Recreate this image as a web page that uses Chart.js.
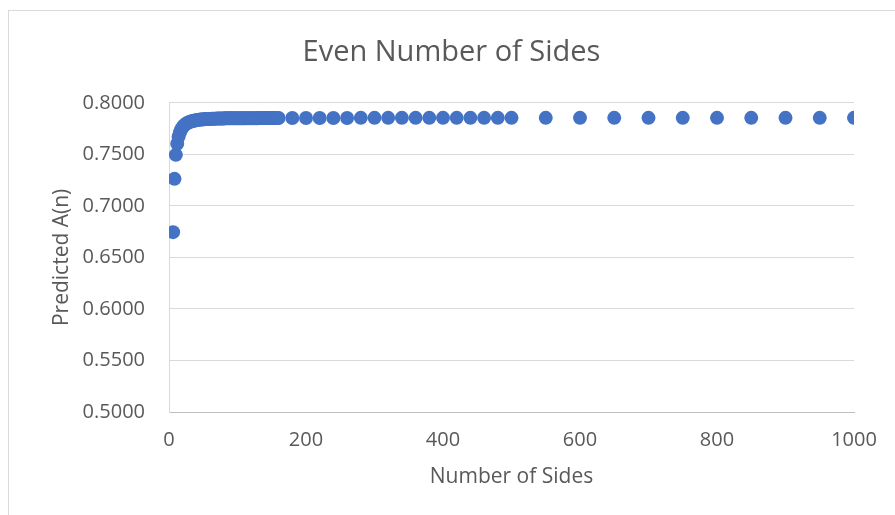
<!DOCTYPE html>
<html>
<head>
<meta charset="utf-8">
<title>Even Number of Sides</title>
<script src="https://cdn.jsdelivr.net/npm/chart.js@4.4.1/dist/chart.umd.min.js"></script>
<style>
  html, body { margin: 0; padding: 0; background: #ffffff; }
  #wrap { position: relative; width: 895px; height: 515px; overflow: hidden; }
  #frame {
    position: absolute; left: 8px; top: 10px; width: 900px; height: 520px;
    border-left: 1px solid #d9d9d9; border-top: 1px solid #d9d9d9;
    pointer-events: none;
  }
  canvas { position: absolute; left: 0; top: 0; }
</style>
</head>
<body>
<div id="wrap">
  <canvas id="chart" width="895" height="515"></canvas>
  <div id="frame"></div>
</div>
<script>
// Number of sides (even polygons only)
const sides = [
  6, 8, 10, 12, 14, 16, 18, 20, 22, 24, 26, 28, 30, 32, 34, 36, 38, 40,
  42, 44, 46, 48, 50, 52, 54, 56, 58, 60, 62, 64, 66, 68, 70, 72, 74, 76,
  78, 80, 82, 84, 86, 88, 90, 92, 94, 96, 98, 100, 102, 104, 106, 108, 110,
  112, 114, 116, 118, 120, 122, 124, 126, 128, 130, 132, 134, 136, 138, 140,
  142, 144, 146, 148, 150, 152, 154, 156, 158, 160,
  180, 200, 220, 240, 260, 280, 300, 320, 340, 360, 380, 400, 420, 440, 460, 480, 500,
  550, 600, 650, 700, 750, 800, 850, 900, 950, 1000
];

// Predicted A(n) for each polygon
const predictedArea = [
  0.6745, 0.7262, 0.7495, 0.7603, 0.7670, 0.7713, 0.7743, 0.7764, 0.7780, 0.7791,
  0.7801, 0.7808, 0.7814, 0.7819, 0.7823, 0.7826, 0.7829, 0.7831,
  0.7834, 0.7835, 0.7837, 0.7838, 0.7840, 0.7841, 0.7842, 0.7843, 0.7843, 0.7844,
  0.7845, 0.7845, 0.7846, 0.7846, 0.7847, 0.7847, 0.7847, 0.7848,
  0.7848, 0.7848, 0.7849, 0.7849, 0.7849, 0.7849, 0.7849, 0.7850, 0.7850, 0.7850,
  0.7850, 0.7850, 0.7850, 0.7850, 0.7850, 0.7850, 0.7850,
  0.7851, 0.7851, 0.7851, 0.7851, 0.7851, 0.7851, 0.7851, 0.7851, 0.7851, 0.7851,
  0.7852, 0.7852, 0.7852, 0.7852, 0.7852,
  0.7852, 0.7852, 0.7852, 0.7852, 0.7852, 0.7852, 0.7852, 0.7852, 0.7852, 0.7852,
  0.7853, 0.7853, 0.7853, 0.7853, 0.7853, 0.7854, 0.7854, 0.7854, 0.7854, 0.7854,
  0.7854, 0.7854, 0.7854, 0.7854, 0.7854, 0.7854, 0.7854,
  0.7854, 0.7854, 0.7854, 0.7854, 0.7854, 0.7854, 0.7854, 0.7854, 0.7854, 0.7854
];

// Axis ranges and tick spacing
const xTicks = { min: 0, max: 1000, step: 200 };
const yTicks = { min: 0.5, max: 0.8, step: 0.05 };

const textColor = '#595959';
const fontFamily = '"Open Sans", "Liberation Sans", sans-serif';

const points = sides.map((n, i) => ({ x: n, y: predictedArea[i] }));

new Chart(document.getElementById('chart'), {
  type: 'scatter',
  data: {
    datasets: [{
      label: 'Predicted A(n)',
      data: points,
      backgroundColor: '#4472c4',
      borderColor: '#4472c4',
      borderWidth: 0,
      pointRadius: 7,
      pointHoverRadius: 7
    }]
  },
  options: {
    responsive: false,
    animation: false,
    events: [],
    layout: { padding: { left: 49, right: 41, top: 10, bottom: 25 } },
    plugins: {
      legend: { display: false },
      tooltip: { enabled: false },
      title: {
        display: true,
        text: 'Even Number of Sides',
        color: textColor,
        font: { family: fontFamily, size: 29, weight: 'normal', lineHeight: 1.2 },
        padding: { top: 25, bottom: 33 }
      }
    },
    scales: {
      x: {
        type: 'linear',
        min: xTicks.min,
        max: xTicks.max,
        grid: { display: false, drawTicks: false },
        border: { display: true, color: '#bfbfbf', width: 1 },
        ticks: {
          stepSize: xTicks.step,
          color: textColor,
          padding: 16,
          maxRotation: 0,
          font: { family: fontFamily, size: 20 },
          callback: (v) => String(v)
        },
        title: {
          display: true,
          text: 'Number of Sides',
          color: textColor,
          font: { family: fontFamily, size: 21, lineHeight: 1.2 },
          padding: { top: 0, bottom: 0 }
        },
        afterFit(scale) { scale.height = 78; }
      },
      y: {
        type: 'linear',
        min: yTicks.min,
        max: yTicks.max,
        grid: { color: '#d9d9d9', lineWidth: 1, drawTicks: false },
        border: { display: true, color: '#d9d9d9', width: 1 },
        ticks: {
          stepSize: yTicks.step,
          color: textColor,
          padding: 24,
          font: { family: fontFamily, size: 20 },
          callback: (v) => Number(v).toFixed(4)
        },
        title: {
          display: true,
          text: 'Predicted A(n)',
          color: textColor,
          font: { family: fontFamily, size: 21, lineHeight: 1.2 },
          padding: { top: 0, bottom: 0 }
        },
        afterFit(scale) { scale.width = 120; }
      }
    }
  }
});
</script>
</body>
</html>
